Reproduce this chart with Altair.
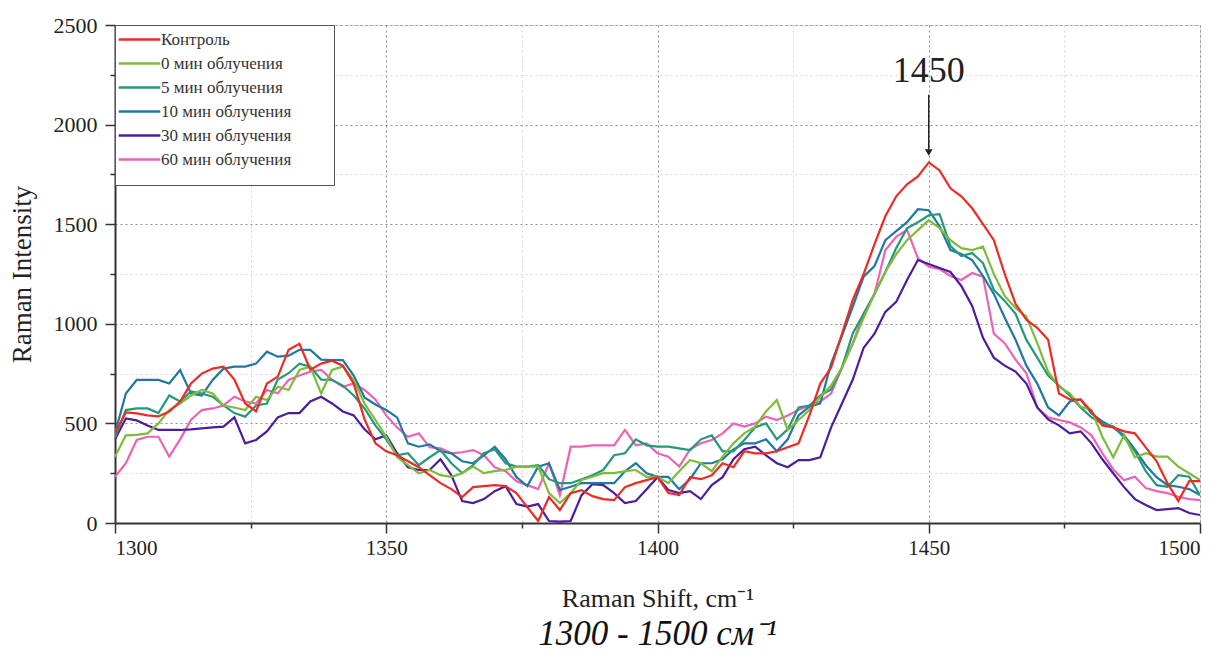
import altair as alt
import pandas as pd

# Raman shift grid (cm^-1), shared by all spectra
wavenumber = list(range(1300, 1501, 2))

series_names = ["Контроль", "0 мин облучения", "5 мин облучения",
                "10 мин облучения", "30 мин облучения", "60 мин облучения"]
series_colors = ["#ee2a24", "#7fbb3b", "#23997a", "#1f78a4", "#4b1c9e", "#ee62b3"]

control = [
    450, 555, 550, 540, 535, 560, 610, 700, 750, 775,
    785, 720, 600, 560, 700, 735, 870, 900, 770, 800,
    815, 790, 700, 520, 400, 360, 340, 310, 280, 240,
    200, 170, 130, 180, 185, 190, 185, 150, 80, 10,
    130, 65, 150, 165, 135, 120, 115, 180, 200, 215,
    230, 150, 140, 230, 220, 240, 300, 280, 360, 350,
    350, 360, 380, 400, 540, 700, 780, 950, 1120, 1250,
    1400, 1540, 1640, 1700, 1740, 1810, 1770, 1680, 1640, 1580,
    1500, 1420, 1250, 1100, 1020, 980, 920, 650, 620, 620,
    560, 490, 480, 460, 450, 380, 310, 200, 110, 210,
    210]
irr_0 = [
    333, 440, 442, 450, 500, 567, 600, 640, 668, 650,
    590, 580, 567, 634, 617, 684, 668, 768, 785, 650,
    768, 785, 718, 600, 517, 433, 330, 290, 250, 266,
    240, 232, 250, 283, 250, 260, 266, 283, 283, 283,
    150, 100, 150, 216, 232, 250, 250, 260, 266, 232,
    232, 200, 260, 316, 300, 260, 333, 400, 450, 484,
    560, 617, 467, 517, 567, 634, 690, 780, 900, 1030,
    1150, 1260, 1350, 1420, 1470, 1520, 1480, 1420, 1380, 1370,
    1387, 1250, 1140, 1080, 1036, 903, 760, 684, 651, 584,
    567, 433, 330, 440, 330, 350, 333, 333, 283, 250,
    216]
irr_5 = [
    430, 567, 575, 575, 552, 640, 610, 660, 650, 634,
    590, 552, 534, 590, 600, 720, 752, 800, 785, 720,
    718, 690, 640, 575, 490, 420, 340, 350, 290, 330,
    366, 300, 250, 290, 350, 370, 300, 283, 283, 290,
    220, 200, 200, 220, 240, 266, 340, 350, 420, 390,
    383, 383, 375, 366, 420, 440, 360, 360, 417, 480,
    500, 420, 470, 580, 590, 640, 670, 780, 952, 1050,
    1150, 1260, 1380, 1480, 1510, 1545, 1550, 1390, 1340, 1355,
    1305, 1170, 1115, 1050, 919, 830, 740, 690, 640, 580,
    530, 500, 484, 430, 360, 260, 190, 182, 240, 232,
    140]
irr_10 = [
    450, 650, 718, 718, 718, 700, 768, 650, 640, 718,
    775, 785, 785, 800, 860, 835, 840, 869, 869, 820,
    818, 818, 740, 630, 595, 567, 530, 400, 383, 395,
    360, 350, 310, 300, 340, 383, 320, 230, 185, 283,
    300, 166, 182, 200, 200, 200, 200, 260, 300, 250,
    232, 232, 170, 220, 300, 300, 320, 370, 400, 400,
    420, 360, 420, 540, 584, 600, 800, 940, 1086, 1237,
    1290, 1420, 1465, 1510, 1575, 1570, 1490, 1370, 1350, 1320,
    1240, 1150, 1030, 920, 790, 700, 580, 540, 610, 620,
    550, 510, 480, 440, 370, 290, 230, 190, 182, 170,
    140]
irr_30 = [
    420, 525, 515, 490, 467, 467, 467, 470, 475, 480,
    484, 530, 400, 417, 460, 530, 552, 552, 610, 634,
    600, 560, 540, 470, 420, 440, 350, 280, 266, 266,
    320, 240, 110, 100, 120, 160, 185, 95, 82, 95,
    10, 7, 10, 140, 195, 190, 150, 100, 110, 170,
    230, 166, 150, 160, 120, 190, 230, 320, 370, 383,
    340, 300, 280, 316, 316, 330, 480, 600, 720, 880,
    950, 1060, 1110, 1220, 1320, 1300, 1280, 1260, 1190, 1090,
    930, 830, 790, 760, 700, 580, 520, 490, 450, 460,
    400, 320, 250, 180, 120, 90, 65, 70, 75, 50,
    40]
irr_60 = [
    232, 300, 417, 433, 433, 333, 420, 517, 567, 575,
    590, 634, 610, 600, 668, 651, 718, 740, 760, 768,
    720, 684, 700, 668, 620, 540, 480, 433, 450, 380,
    375, 350, 355, 366, 340, 280, 260, 210, 190, 170,
    300, 140, 383, 383, 390, 390, 390, 467, 390, 400,
    350, 333, 283, 370, 400, 417, 450, 500, 484, 500,
    534, 517, 540, 567, 590, 610, 650, 780, 903, 1052,
    1150, 1370, 1437, 1471, 1330, 1287, 1275, 1240, 1220, 1255,
    1237, 950, 903, 820, 752, 580, 530, 517, 505, 480,
    440, 350, 270, 215, 232, 175, 160, 150, 132, 120,
    115]

series_values = [control, irr_0, irr_5, irr_10, irr_30, irr_60]

# x ticks (major every 50, minor every 25) and y ticks (major 500, minor 250)
x_ticks = [1300, 1325, 1350, 1375, 1400, 1425, 1450, 1475, 1500]
y_ticks = [0, 250, 500, 750, 1000, 1250, 1500, 1750, 2000, 2250, 2500]

# peak annotation
peak_x = [1450]
peak_text = ["1450"]
peak_text_y = [2270]
arrow_top = [2150]
arrow_tip = [1875]
arrow_head = [1860]

rows = []
for k in [5, 4, 3, 2, 1, 0]:
    for w, v in zip(wavenumber, series_values[k]):
        rows.append({"shift": w, "intensity": v, "series": series_names[k], "order": k})
df = pd.DataFrame(rows)

FONT = "Liberation Serif"

x_scale = alt.Scale(domain=[1300, 1500], nice=False, zero=False)
y_scale = alt.Scale(domain=[0, 2500], nice=False)

major_x = "datum.value % 50 === 0"
major_y = "datum.value % 500 === 0"

x_axis = alt.Axis(
    values=x_ticks, format="d",
    labelExpr=f"{major_x} ? datum.label : ''",
    title="Raman Shift, cm⁻¹", titleFont=FONT, titleFontSize=26, titleFontWeight="normal",
    titleColor="#222", titleY=75, titleBaseline="middle",
    labelFont=FONT, labelFontSize=21, labelColor="#222", labelPadding=4,
    domainColor="#333", domainWidth=2,
    tickColor="#333", tickWidth=1.5,
    tickSize={"condition": {"test": major_x, "value": 10}, "value": 5},
    grid=True, gridDash=[2, 3],
    gridColor={"condition": {"test": major_x, "value": "#8f8f8f"}, "value": "#d6d6d6"},
    gridWidth=1,
)
y_axis = alt.Axis(
    values=y_ticks, format="d",
    labelExpr=f"{major_y} ? datum.label : ''",
    title="Raman Intensity", titleFont=FONT, titleFontSize=27, titleFontWeight="normal",
    titleColor="#222", titleX=-93, titleY=249, titleAngle=-90, titleAlign="center",
    titleBaseline="middle",
    labelFont=FONT, labelFontSize=22, labelColor="#222", labelPadding=8,
    domainColor="#333", domainWidth=2,
    tickColor="#333", tickWidth=1.5,
    tickSize={"condition": {"test": major_y, "value": 10}, "value": 5},
    grid=True, gridDash=[2, 3],
    gridColor={"condition": {"test": major_y, "value": "#8f8f8f"}, "value": "#d6d6d6"},
    gridWidth=1,
)

legend = alt.Legend(
    orient="none", legendX=0, legendY=0,
    title="\u2800", titleOrient="bottom", titleFontSize=10, titlePadding=1,
    symbolType="M-3.2,0H3.2", symbolSize=169, symbolStrokeWidth=2.5,
    symbolOffset=10, labelOffset=13,
    labelExpr="datum.label + '\u2800\u2800\u2800'",
    labelFont=FONT, labelFontSize=17, labelColor="#333", labelLimit=300,
    rowPadding=6, padding=6,
    strokeColor="#555", fillColor="white",
)

lines = alt.Chart(df).mark_line(strokeWidth=2.2, clip=True).encode(
    x=alt.X("shift:Q", scale=x_scale, axis=x_axis),
    y=alt.Y("intensity:Q", scale=y_scale, axis=y_axis),
    color=alt.Color("series:N", scale=alt.Scale(domain=series_names, range=series_colors),
                    legend=legend),
    order=alt.Order("order:Q"),
    detail="series:N",
)

ann_df = pd.DataFrame({"x": peak_x, "label": peak_text, "ty": peak_text_y,
                       "y1": arrow_top, "y2": arrow_tip, "yh": arrow_head})

ann_text = alt.Chart(ann_df).mark_text(font=FONT, fontSize=36, color="#222",
                                       baseline="middle").encode(
    x=alt.X("x:Q", scale=x_scale), y=alt.Y("ty:Q", scale=y_scale), text="label:N")
ann_rule = alt.Chart(ann_df).mark_rule(strokeWidth=1.5, color="#222").encode(
    x=alt.X("x:Q", scale=x_scale), y=alt.Y("y1:Q", scale=y_scale), y2="y2:Q")
ann_head = alt.Chart(ann_df).mark_point(shape="triangle-down", filled=True, size=60,
                                        color="#222", opacity=1).encode(
    x=alt.X("x:Q", scale=x_scale), y=alt.Y("yh:Q", scale=y_scale))

chart = alt.layer(lines, ann_rule, ann_head, ann_text).properties(
    width=1085, height=498,
    autosize=alt.AutoSizeParams(type="none"),
    padding={"left": 115, "top": 25, "right": 29, "bottom": 135},
    title=alt.TitleParams("1300 - 1500 см⁻¹", orient="bottom", anchor="middle",
                          font=FONT, fontSize=35, fontStyle="italic", fontWeight="normal",
                          color="#111", offset=6),
).configure_view(stroke="#444", strokeWidth=1.5).configure(background="white")

chart.save("out.html", embed_options={"renderer": "svg", "actions": False})
